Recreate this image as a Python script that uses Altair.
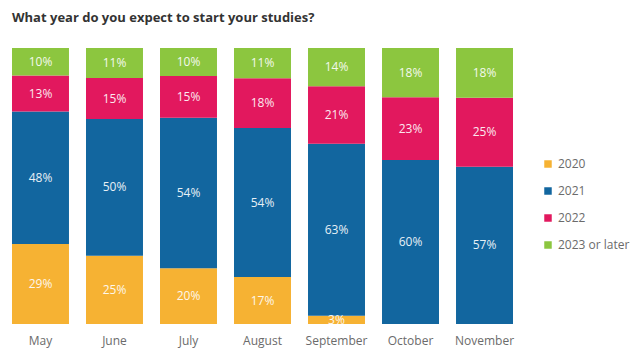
import altair as alt
import pandas as pd

months = ["May", "June", "July", "August", "September", "October", "November"]
series = ["2020", "2021", "2022", "2023 or later"]
v2020 = [29, 25, 20, 17, 3, 0, 0]
v2021 = [48, 50, 54, 54, 63, 60, 57]
v2022 = [13, 15, 15, 18, 21, 23, 25]
v2023 = [10, 11, 10, 11, 14, 18, 18]
colors = ["#F6B233", "#12669F", "#E2185E", "#8CC63F"]

rows = []
for i, m in enumerate(months):
    for k, (s, vals) in enumerate(zip(series, [v2020, v2021, v2022, v2023])):
        rows.append({"month": m, "series": s, "order": k, "value": vals[i]})
df = pd.DataFrame(rows)

base = alt.Chart(df).transform_stack(
    stack="value", groupby=["month"], sort=[alt.SortField("order", order="ascending")],
    as_=["y0", "y1"], offset="normalize"
).transform_calculate(
    mid="(datum.y0 + datum.y1) / 2",
    label="datum.value + '%'"
)

xenc = alt.X("month:N", sort=months, title=None,
             scale=alt.Scale(paddingInner=0.23, paddingOuter=0),
             axis=alt.Axis(labelAngle=0, domain=False, ticks=False, labelPadding=11,
                           labelFont="Open Sans", labelFontSize=12, labelColor="#6b6b6b"))

bars = base.mark_bar().encode(
    x=xenc,
    y=alt.Y("y0:Q", axis=None, scale=alt.Scale(domain=[0, 1], nice=False)),
    y2="y1:Q",
    color=alt.Color("series:N", sort=series,
                    scale=alt.Scale(domain=series, range=colors),
                    legend=alt.Legend(title=None, orient="none", legendX=530, legendY=110,
                                      symbolType="square", symbolSize=56, symbolStrokeWidth=0,
                                      labelFont="Open Sans", labelFontSize=12, labelColor="#6b6b6b",
                                      rowPadding=15, labelOffset=4)),
)

texts = base.transform_filter("datum.value > 0").mark_text(
    font="Open Sans", fontSize=12, color="white", opacity=0.9
).encode(
    x=alt.X("month:N", sort=months),
    y=alt.Y("mid:Q"),
    text="label:N",
)

chart = alt.layer(bars, texts).properties(
    width=501, height=276,
    title=alt.TitleParams("What year do you expect to start your studies?", anchor="start",
                          font="Open Sans", fontSize=13, fontWeight="bold", color="#333333",
                          offset=23),
    autosize=alt.AutoSizeParams(type="none"),
    padding={"left": 4, "top": 40, "right": 119, "bottom": 26},
).configure_view(stroke=None)

chart.save("out.html", embed_options={"renderer": "svg", "actions": False})
